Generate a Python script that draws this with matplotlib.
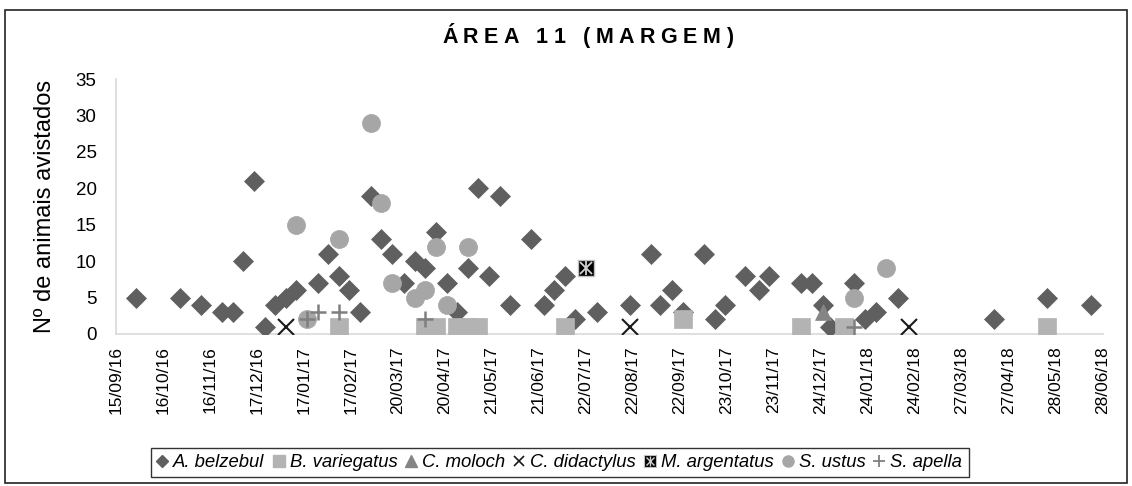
import datetime as dt
import matplotlib
matplotlib.use("Agg")
import matplotlib.pyplot as plt
import matplotlib.dates as mdates
from matplotlib.lines import Line2D
from matplotlib.legend_handler import HandlerTuple
from matplotlib.patches import Rectangle

# ---------------- data ----------------
belz_dates = ["2016-09-28", "2016-10-27", "2016-11-10", "2016-11-24", "2016-12-01", "2016-12-08",
              "2016-12-15", "2016-12-22", "2016-12-29", "2017-01-05", "2017-01-12", "2017-01-26",
              "2017-02-02", "2017-02-09", "2017-02-16", "2017-02-23", "2017-03-02", "2017-03-09",
              "2017-03-16", "2017-03-24", "2017-03-31", "2017-04-07", "2017-04-14", "2017-04-21",
              "2017-04-28", "2017-05-05", "2017-05-12", "2017-05-19", "2017-05-26", "2017-06-02",
              "2017-06-16", "2017-06-24", "2017-07-01", "2017-07-08", "2017-07-15", "2017-07-29",
              "2017-08-20", "2017-09-03", "2017-09-09", "2017-09-17", "2017-09-24", "2017-10-08",
              "2017-10-15", "2017-10-22", "2017-11-04", "2017-11-13", "2017-11-20", "2017-12-11",
              "2017-12-18", "2017-12-25", "2017-12-30", "2018-01-15", "2018-01-22", "2018-01-29",
              "2018-02-13", "2018-04-17", "2018-05-22", "2018-06-20"]
belz_vals = [5, 5, 4, 3, 3, 10, 21, 1, 4, 5, 6, 7, 11, 8, 6, 3, 19, 13, 11, 7, 10, 9, 14, 7, 3,
             9, 20, 8, 19, 4, 13, 4, 6, 8, 2, 3, 4, 11, 4, 6, 3, 11, 2, 4, 8, 6, 8, 7, 7, 4, 1,
             7, 2, 3, 5, 2, 5, 4]

bvar_dates = ["2017-02-09", "2017-04-07", "2017-04-14", "2017-04-28", "2017-05-05", "2017-05-12",
              "2017-07-08", "2017-09-24", "2017-12-11", "2018-01-08", "2018-05-22"]
bvar_vals = [1, 1, 1, 1, 1, 1, 1, 2, 1, 1, 1]

cmol_dates = ["2017-12-25"]
cmol_vals = [3]

cdid_dates = ["2017-01-05", "2017-08-20", "2018-02-20"]
cdid_vals = [1, 1, 1]

marg_dates = ["2017-07-22"]
marg_vals = [9]

sust_dates = ["2017-01-12", "2017-01-19", "2017-02-09", "2017-03-02", "2017-03-09", "2017-03-16",
              "2017-03-31", "2017-04-07", "2017-04-14", "2017-04-21", "2017-05-05", "2018-01-15",
              "2018-02-05"]
sust_vals = [15, 2, 13, 29, 18, 7, 5, 6, 12, 4, 12, 5, 9]

sape_dates = ["2017-01-19", "2017-01-26", "2017-02-09", "2017-04-07", "2018-01-15"]
sape_vals = [2, 3, 3, 2, 1]

species = ["A. belzebul", "B. variegatus", "C. moloch", "C. didactylus",
           "M. argentatus", "S. ustus", "S. apella"]

x_start = "2016-09-15"
x_end = "2018-06-28"
tick_step_days = 31
y_ticks = [0, 5, 10, 15, 20, 25, 30, 35]

title = "ÁREA 11 (MARGEM)"
ylabel = "Nº de animais avistados"

# ---------------- helpers ----------------
def to_dates(lst):
    return [dt.datetime.strptime(s, "%Y-%m-%d") for s in lst]

W, H = 1132, 486
plt.rcParams["font.family"] = ["Liberation Sans", "DejaVu Sans"]
fig = plt.figure(figsize=(W / 100, H / 100), dpi=100)
fig.patch.set_facecolor("white")

ax_l, ax_r, ax_t, ax_b = 116, 1103, 79, 334
ax = fig.add_axes([ax_l / W, 1 - ax_b / H, (ax_r - ax_l) / W, (ax_b - ax_t) / H])

# series
ax.plot(to_dates(belz_dates), belz_vals, linestyle="none", marker="D", ms=9.8,
        mfc="#5f5f5f", mec="#5f5f5f", mew=0.5, zorder=3)
ax.plot(to_dates(bvar_dates), bvar_vals, linestyle="none", marker="s", ms=12.5,
        mfc="#b3b3b3", mec="#b3b3b3", mew=0.5, zorder=4)
ax.plot(to_dates(cmol_dates), cmol_vals, linestyle="none", marker="^", ms=12,
        mfc="#858585", mec="#858585", mew=0.5, zorder=5)
ax.plot(to_dates(cdid_dates), cdid_vals, linestyle="none", marker="x", ms=11,
        mec="#1a1a1a", mew=1.5, zorder=6)
ax.plot(to_dates(marg_dates), marg_vals, linestyle="none", marker="s", ms=11.5,
        mfc="black", mec="#bfbfbf", mew=1.0, zorder=7)
ax.plot(to_dates(marg_dates), marg_vals, linestyle="none", marker="x", ms=8,
        mec="#d0d0d0", mew=1.3, zorder=8)
ax.plot(to_dates(marg_dates), marg_vals, linestyle="none", marker="|", ms=10,
        mec="#d0d0d0", mew=1.3, zorder=8)
ax.plot(to_dates(sust_dates), sust_vals, linestyle="none", marker="o", ms=13,
        mfc="#a6a6a6", mec="#a6a6a6", mew=0.5, zorder=9)
ax.plot(to_dates(sape_dates), sape_vals, linestyle="none", marker="+", ms=11.5,
        mec="#7f7f7f", mew=1.8, zorder=10)

# axes styling
x0 = dt.datetime.strptime(x_start, "%Y-%m-%d")
x1 = dt.datetime.strptime(x_end, "%Y-%m-%d")
ax.set_xlim(x0, x1)
ax.set_ylim(0, 35)
ticks = []
d = x0
while d <= x1:
    ticks.append(d)
    d += dt.timedelta(days=tick_step_days)
ax.set_xticks(ticks)
ax.xaxis.set_major_formatter(mdates.DateFormatter("%d/%m/%y"))
ax.set_yticks(y_ticks)
ax.tick_params(axis="both", length=0, colors="black")
ax.tick_params(axis="x", labelsize=12.5, pad=9)
ax.tick_params(axis="y", labelsize=13.5, pad=14)
for lab in ax.get_xticklabels():
    lab.set_rotation(90)
for s in ["top", "right"]:
    ax.spines[s].set_visible(False)
for s in ["left", "bottom"]:
    ax.spines[s].set_color("#d9d9d9")
    ax.spines[s].set_linewidth(1.2)

fig.text(45 / W, 1 - 206 / H, ylabel, rotation=90, ha="center", va="center",
         fontsize=17)

# title with letter spacing
renderer = fig.canvas.get_renderer()
tx = 442.0
fs = 15.5
track = 5.5
for ch in title:
    if ch == " ":
        tx += 0.278 * fs * 100 / 72 + track
        continue
    t = fig.text(tx / W, 1 - 43 / H, ch, fontsize=fs, fontweight="bold",
                 ha="left", va="baseline")
    w = t.get_window_extent(renderer).width
    tx += w + track

# legend
h_belz = Line2D([], [], linestyle="none", marker="D", ms=6, mfc="#5f5f5f", mec="#5f5f5f")
h_bvar = Line2D([], [], linestyle="none", marker="s", ms=8, mfc="#b3b3b3", mec="#b3b3b3")
h_cmol = Line2D([], [], linestyle="none", marker="^", ms=8, mfc="#858585", mec="#858585")
h_cdid = Line2D([], [], linestyle="none", marker="x", ms=7, mec="#1a1a1a", mew=1.2)
h_marg1 = Line2D([], [], linestyle="none", marker="s", ms=8, mfc="black", mec="#bfbfbf", mew=0.8)
h_marg2 = Line2D([], [], linestyle="none", marker="x", ms=5.5, mec="#d0d0d0", mew=1.0)
h_marg3 = Line2D([], [], linestyle="none", marker="|", ms=7, mec="#d0d0d0", mew=1.0)
h_sust = Line2D([], [], linestyle="none", marker="o", ms=8, mfc="#a6a6a6", mec="#a6a6a6")
h_sape = Line2D([], [], linestyle="none", marker="+", ms=8, mec="#7f7f7f", mew=1.3)
handles = [h_belz, h_bvar, h_cmol, h_cdid, (h_marg1, h_marg2, h_marg3), h_sust, h_sape]
leg = fig.legend(handles, species, loc="center", bbox_to_anchor=(560 / W, 1 - 462.5 / H),
                 ncol=7, frameon=True, fancybox=False, edgecolor="black",
                 prop={"style": "italic", "size": 13.3}, handlelength=0.5,
                 handletextpad=0.35, columnspacing=0.5, borderpad=0.35,
                 handler_map={tuple: HandlerTuple(ndivide=1)})
leg.get_frame().set_linewidth(1.0)

# chart border
fig.patches.append(Rectangle((5 / W, 1 - 483 / H), (1127 - 5) / W, (483 - 10) / H,
                             transform=fig.transFigure, fill=False, edgecolor="#222222",
                             linewidth=1.2))

fig.savefig("out.png", dpi=100)
